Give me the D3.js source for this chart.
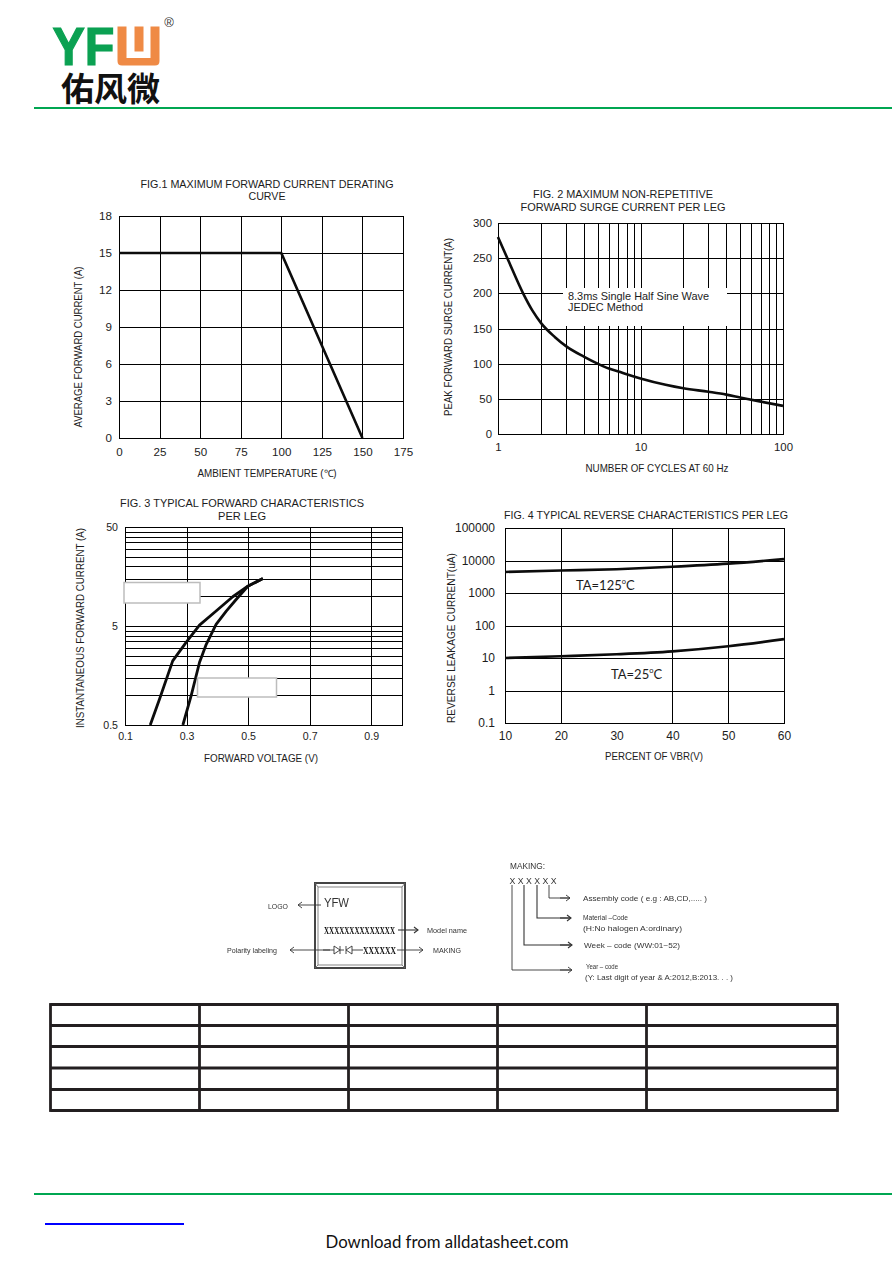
<!DOCTYPE html>
<html><head><meta charset="utf-8">
<script src="https://cdn.jsdelivr.net/npm/d3@7"></script>
<style>
html,body{margin:0;padding:0;background:#fff}
svg{display:block}
text{font-family:"Liberation Sans",Arial,sans-serif;fill:#1c1c1c}
</style></head><body>
<svg id="page" width="892" height="1263"></svg>
<script>
// ---- Fig 1 data
const fig1Temp = [0, 100, 150];
const fig1Current = [15, 15, 0];
const fig1XTicks = [0, 25, 50, 75, 100, 125, 150, 175];
const fig1YTicks = [0, 3, 6, 9, 12, 15, 18];
// ---- Fig 2 data
const fig2Cycles = [1, 1.18, 1.5, 1.75, 2, 2.5, 3, 4, 5, 6, 7, 8, 10, 15, 20, 30, 40, 50, 70, 100];
const fig2Surge = [280, 247, 200, 175, 158, 138, 125, 110, 100, 93, 89, 85, 79, 70, 65, 60, 56, 52, 46, 40];
const fig2XGrid = [1, 2, 3, 4, 5, 6, 7, 8, 9, 10, 20, 30, 40, 50, 60, 70, 80, 90, 100];
const fig2XLabels = [1, 10, 100];
const fig2YTicks = [0, 50, 100, 150, 200, 250, 300];
// ---- Fig 3 data
const fig3V25 = [0.182, 0.212, 0.255, 0.298, 0.342, 0.396, 0.450, 0.499, 0.548];
const fig3I25 = [0.5, 0.91, 2.22, 3.4, 5.1, 7.08, 9.87, 12.6, 15.1];
const fig3V125 = [0.288, 0.315, 0.342, 0.364, 0.396, 0.429, 0.466, 0.499, 0.548];
const fig3I125 = [0.5, 0.99, 2.14, 3.27, 5.2, 7.08, 9.64, 12.6, 15.1];
const fig3XGrid = [0.1, 0.3, 0.5, 0.7, 0.9, 1.0];
const fig3XLabels = [0.1, 0.3, 0.5, 0.7, 0.9];
const fig3YGrid = [0.5, 1, 1.5, 2, 2.5, 3, 3.5, 4, 4.5, 5, 10, 15, 20, 25, 30, 35, 40, 45, 50];
const fig3YLabels = [0.5, 5, 50];
// ---- Fig 4 data
const fig4Pct = [10, 20, 30, 40, 50, 60];
const fig4Leak125 = [4450, 4900, 5400, 6400, 8000, 11000];
const fig4Leak25 = [10, 11.3, 13, 16, 23, 38];
const fig4XGrid = [10, 20, 40, 50, 60];
const fig4XLabels = [10, 20, 30, 40, 50, 60];
const fig4YTicks = [0.1, 1, 10, 100, 1000, 10000, 100000];
// ---- Table rules (blank table)
const tableCols = [50.5, 199.5, 348.5, 497.5, 646.5, 837.5];
const tableRows = [1004.5, 1025.5, 1046.5, 1068, 1089.5, 1110.5];

const svg = d3.select("#page");

function txt(g, s, x, y, o = {}) {
  const t = g.append("text").attr("x", x).attr("y", y).text(s)
    .attr("font-size", o.size || 10).attr("text-anchor", o.anchor || "start")
    .attr("dominant-baseline", "central");
  if (o.len) t.attr("textLength", o.len).attr("lengthAdjust", "spacingAndGlyphs");
  if (o.family) t.style("font-family", o.family);
  if (o.fill) t.style("fill", o.fill);
  if (o.weight) t.attr("font-weight", o.weight);
  if (o.rot) t.attr("transform", `rotate(${o.rot} ${x} ${y})`);
  return t;
}

function chart(c) {
  const g = svg.append("g");
  const ih = c.y1 - c.y0, iw = c.x1 - c.x0;
  const x = c.xs.range([c.x0, c.x1]);
  const y = c.ys.range([c.y1, c.y0]);
  const fmtX = c.fmtX || (d => d), fmtY = c.fmtY || (d => d);

  const gx = g.append("g").attr("transform", `translate(0,${c.y1})`)
    .call(d3.axisBottom(x).tickValues(c.xGrid).tickSize(-ih).tickFormat(""));
  const gy = g.append("g").attr("transform", `translate(${c.x0},0)`)
    .call(d3.axisLeft(y).tickValues(c.yGrid).tickSize(-iw).tickFormat(""));
  [gx, gy].forEach(a => {
    a.select(".domain").remove();
    a.selectAll("line").attr("stroke", "#000").attr("stroke-width", 1).attr("shape-rendering", "crispEdges");
  });
  g.append("rect").attr("x", c.x0 + .5).attr("y", c.y0 + .5).attr("width", iw).attr("height", ih)
    .attr("fill", "none").attr("stroke", "#000").attr("shape-rendering", "crispEdges");

  const lx = g.append("g").attr("transform", `translate(0,${c.y1})`)
    .call(d3.axisBottom(x).tickValues(c.xLabels).tickSize(0).tickPadding(c.padX).tickFormat(fmtX));
  const ly = g.append("g").attr("transform", `translate(${c.x0},0)`)
    .call(d3.axisLeft(y).tickValues(c.yLabels).tickSize(0).tickPadding(c.padY).tickFormat(fmtY));
  [lx, ly].forEach(a => {
    a.select(".domain").remove();
    a.selectAll("text").attr("font-size", c.tickSize).style("font-family", '"Liberation Sans",Arial,sans-serif').style("fill", "#1c1c1c");
  });

  (c.mask || []).forEach(m => g.append("rect").attr("x", m[0]).attr("y", m[1]).attr("width", m[2]).attr("height", m[3]).attr("fill", "#fff"));

  c.series.forEach(s => {
    const pts = s.xs.map((v, i) => [v, s.ys[i]]);
    g.append("path").datum(pts).attr("fill", "none").attr("stroke", "#0c0c0c")
      .attr("stroke-width", c.lineW || 2.6).attr("stroke-linejoin", "round")
      .attr("d", d3.line().x(d => x(d[0])).y(d => y(d[1])).curve(c.curve || d3.curveLinear));
  });

  c.titles.forEach(t => txt(g, t[0], t[1], t[2], { size: 10.7, anchor: "middle", len: t[3] }));
  txt(g, c.xTitle[0], c.xTitle[1], c.xTitle[2], { size: 10.2, anchor: "middle", len: c.xTitle[3] });
  txt(g, c.yTitle[0], c.yTitle[1], c.yTitle[2], { size: 10.2, anchor: "middle", rot: -90, len: c.yTitle[3] });
  return g;
}

// ---- Fig 1
chart({
  x0: 119, x1: 403, y0: 216, y1: 438,
  xs: d3.scaleLinear().domain([0, 175]), ys: d3.scaleLinear().domain([0, 18]),
  xGrid: fig1XTicks, xLabels: fig1XTicks, yGrid: fig1YTicks, yLabels: fig1YTicks,
  tickSize: 11.6, padX: 10, padY: 7,
  series: [{ xs: fig1Temp, ys: fig1Current }],
  titles: [["FIG.1 MAXIMUM FORWARD CURRENT DERATING", 267, 184, 253], ["CURVE", 267, 195.5, 37]],
  xTitle: ["AMBIENT TEMPERATURE (℃)", 267, 473, 139],
  yTitle: ["AVERAGE FORWARD CURRENT  (A)", 78, 347, 161]
});
// ---- Fig 2
const g2 = chart({
  x0: 498, x1: 783, y0: 223, y1: 434,
  xs: d3.scaleLog().domain([1, 100]), ys: d3.scaleLinear().domain([0, 300]),
  xGrid: fig2XGrid, xLabels: fig2XLabels, yGrid: fig2YTicks, yLabels: fig2YTicks,
  tickSize: 11.4, padX: 9, padY: 6,
  fmtX: d3.format("d"),
  mask: [[563, 288, 164, 38]],
  curve: d3.curveMonotoneX,
  series: [{ xs: fig2Cycles, ys: fig2Surge }],
  titles: [["FIG. 2 MAXIMUM NON-REPETITIVE", 623, 194, 180], ["FORWARD SURGE CURRENT PER LEG", 623, 207, 205]],
  xTitle: ["NUMBER OF CYCLES AT 60 Hz", 657, 468, 143],
  yTitle: ["PEAK FORWARD SURGE CURRENT(A)", 448, 327, 178]
});
txt(g2, "8.3ms Single Half Sine Wave", 568, 296, { size: 10.7, len: 141 });
txt(g2, "JEDEC Method", 568, 306.5, { size: 10.7, len: 75 });
// ---- Fig 3
const g3 = chart({
  x0: 125, x1: 402, y0: 527, y1: 725,
  xs: d3.scaleLinear().domain([0.1, 1.0]), ys: d3.scaleLog().domain([0.5, 50]),
  xGrid: fig3XGrid, xLabels: fig3XLabels, yGrid: fig3YGrid, yLabels: fig3YLabels,
  tickSize: 10.6, padX: 7, padY: 7,
  lineW: 2.8,
  fmtX: d3.format(".1f"), fmtY: d => d,
  series: [{ xs: fig3V25, ys: fig3I25 }, { xs: fig3V125, ys: fig3I125 }],
  titles: [["FIG. 3 TYPICAL FORWARD CHARACTERISTICS", 242, 503, 244], ["PER LEG", 242, 516, 48]],
  xTitle: ["FORWARD VOLTAGE (V)", 261, 758, 114],
  yTitle: ["INSTANTANEOUS FORWARD CURRENT (A)", 80, 628, 200]
});
g3.append("rect").attr("x", 124).attr("y", 582.5).attr("width", 76).attr("height", 20.5).attr("fill", "#fff").attr("stroke", "#bdbdbd").attr("stroke-width", 1.5);
g3.append("rect").attr("x", 197.5).attr("y", 678).attr("width", 79).attr("height", 19).attr("fill", "#fff").attr("stroke", "#bdbdbd").attr("stroke-width", 1.5);
// ---- Fig 4
const g4 = chart({
  x0: 505, x1: 784, y0: 528, y1: 723,
  xs: d3.scaleLinear().domain([10, 60]), ys: d3.scaleLog().domain([0.1, 100000]),
  xGrid: fig4XGrid, xLabels: fig4XLabels, yGrid: fig4YTicks, yLabels: fig4YTicks,
  tickSize: 12, padX: 8, padY: 10,
  fmtX: d => d, fmtY: d => String(d),
  curve: d3.curveMonotoneX,
  series: [{ xs: fig4Pct, ys: fig4Leak125 }, { xs: fig4Pct, ys: fig4Leak25 }],
  titles: [["FIG. 4 TYPICAL REVERSE CHARACTERISTICS PER LEG", 646, 515, 284]],
  xTitle: ["PERCENT OF VBR(V)", 654, 756, 98],
  yTitle: ["REVERSE LEAKAGE CURRENT(uA)", 451, 638, 170]
});
const ta = (s, x, y) => {
  const t = txt(g4, "", x, y, { size: 13, family: "Lato,sans-serif" });
  t.append("tspan").text("TA=" + s);
  t.append("tspan").text("o").attr("font-size", 7.5).attr("dy", -4);
  t.append("tspan").text("C").attr("dy", 4);
};
ta("125", 576, 585);
ta("25", 611, 674);

// ---- Page furniture: logo
const logo = svg.append("g");
txt(logo, "YF", 52.5, 46.2, { size: 53, weight: 700, fill: "#0ba152", len: 62 }).style("stroke", "#0ba152").style("stroke-width", 1.2);
logo.append("path").attr("fill", "#ef8a45").attr("fill-rule", "evenodd")
  .attr("d", "M117.5 26.5H126.5V58H150.5V26.5H159.5V61Q159.5 65.5 155 65.5H122Q117.5 65.5 117.5 61ZM134.5 26.5H143.5V51.5H134.5Z");
txt(logo, "佑风微", 110.5, 87, { size: 33, weight: 700, anchor: "middle", fill: "#111", family: '"Noto Sans CJK SC",sans-serif' });
txt(logo, "®", 169, 22, { size: 13, anchor: "middle", fill: "#333" });

// ---- Page rules
const rules = [[34, 892, 108, "#00a651", 2], [34, 892, 1194, "#00a651", 2], [45, 184, 1224, "#0000ff", 2]];
svg.append("g").selectAll("line").data(rules).join("line")
  .attr("x1", d => d[0]).attr("x2", d => d[1]).attr("y1", d => d[2]).attr("y2", d => d[2])
  .attr("stroke", d => d[3]).attr("stroke-width", d => d[4]);
txt(svg, "Download from alldatasheet.com", 325.5, 1241, { size: 17, family: "Lato,sans-serif", len: 243, fill: "#111" });

// ---- Table
const tb = svg.append("g").attr("stroke", "#231f20").attr("stroke-width", 2.8);
tableCols.forEach(c => tb.append("line").attr("x1", c).attr("x2", c).attr("y1", tableRows[0] - 1.4).attr("y2", tableRows[5] + 1.4));
tableRows.forEach(r => tb.append("line").attr("y1", r).attr("y2", r).attr("x1", tableCols[0]).attr("x2", tableCols[5]));

// ---- Marking diagram
const defs = svg.append("defs");
defs.append("filter").attr("id", "soft").append("feGaussianBlur").attr("stdDeviation", 0.4);
const mk = svg.append("g").attr("filter", "url(#soft)");
const S = "#333";
const ln = (pts, w = 0.9, col = S) => mk.append("path").attr("d", d3.line()(pts)).attr("fill", "none").attr("stroke", col).attr("stroke-width", w);
const arrow = (x1, x2, y, w = 0.9) => {
  ln([[x1, y], [x2, y]], w);
  const s = x2 > x1 ? -1 : 1;
  ln([[x2 + s * 4, y - 3], [x2, y], [x2 + s * 4, y + 3]], w);
};
const small = (s, x, y, len, size = 8) => txt(mk, s, x, y, { size, len, fill: "#333" });
mk.append("rect").attr("x", 315).attr("y", 883).attr("width", 90).attr("height", 85).attr("fill", "none").attr("stroke", "#444").attr("stroke-width", 2);
mk.append("rect").attr("x", 318).attr("y", 887).attr("width", 84).attr("height", 78).attr("fill", "none").attr("stroke", "#666").attr("stroke-width", 0.8);
ln([[315, 883], [318, 887]], .8, "#666"); ln([[405, 883], [402, 887]], .8, "#666");
ln([[315, 968], [318, 965]], .8, "#666"); ln([[405, 968], [402, 965]], .8, "#666");
txt(mk, "YFW", 324, 903, { size: 12, fill: "#333", len: 25 });
txt(mk, "XXXXXXXXXXXXXX", 324, 930.5, { size: 10, fill: "#111", len: 71, weight: 700, family: '"Liberation Serif",serif' });
txt(mk, "XXXXXX", 363, 950.5, { size: 10, fill: "#111", len: 33, weight: 700, family: '"Liberation Serif",serif' });
ln([[323, 950], [334, 950]]); ln([[334, 946], [340, 950], [334, 954], [334, 946]]); ln([[340, 946], [340, 954]]);
ln([[340, 950], [344, 950]]); ln([[352, 946], [346, 950], [352, 954], [352, 946]]); ln([[346, 946], [346, 954]]);
ln([[352, 950], [363, 950]]);
arrow(321, 298, 905); small("LOGO", 268, 906.5, 20);
arrow(398, 418, 930, 1.1); small("Model name", 427, 930, 40);
arrow(397, 423, 950); small("MAKING", 433, 950, 28);
arrow(330, 290, 950); small("Polarity labeling", 227, 950, 50);

small("MAKING:", 510, 866, 35, 8.4);
small("X X X X X X", 509.5, 881, 47, 8.6);
ln([[549, 885], [549, 898], [570, 898]]); arrow(560, 570, 898);
ln([[537, 885], [537, 918], [570, 918]], 1.1); arrow(560, 571, 918, 1.1);
ln([[524, 885], [524, 945], [571, 945]], 1.1); arrow(560, 572, 945, 1.1);
ln([[512, 885], [512, 970], [571, 970]]); arrow(560, 572, 970);
small("Assembly code ( e.g : AB,CD,..... )", 583, 898, 124);
small("Material –Code", 583, 917, 45);
small("(H:No halogen    A:ordinary)", 583, 928, 99);
small("Week – code (WW:01~52)", 584, 945, 96);
small("Year – code", 586, 966, 32);
small("(Y: Last digit of year & A:2012,B:2013. . . )", 585, 977, 148);
</script>
</body></html>
